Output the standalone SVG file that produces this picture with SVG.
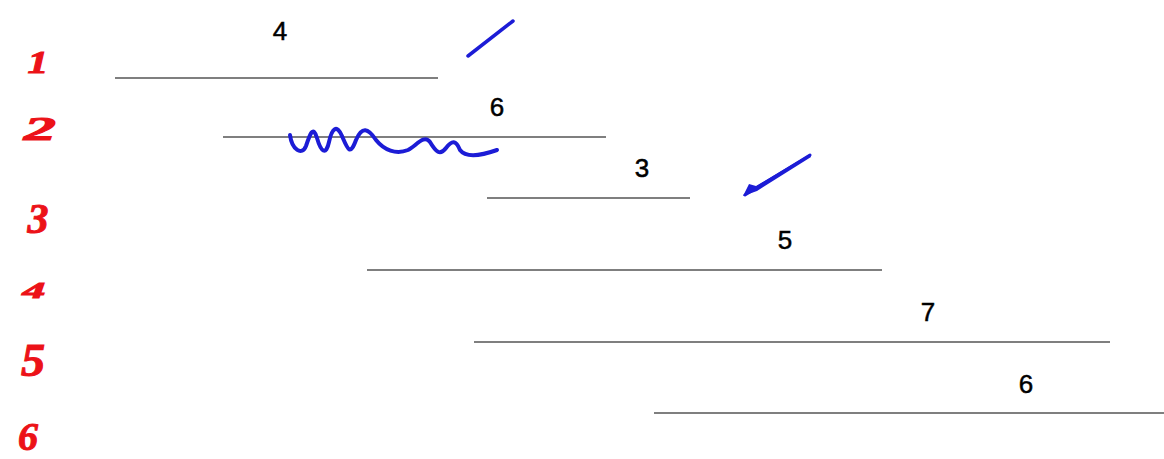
<svg xmlns="http://www.w3.org/2000/svg" width="1164" height="459" viewBox="0 0 1164 459">
<style>
.bar{stroke:#7f7f7f;stroke-width:2.2;fill:none}
.lbl{font-family:"Liberation Sans",Arial,sans-serif;font-size:26px;fill:#000;stroke:#000;stroke-width:0.5;text-anchor:middle}
.num{font-family:"Liberation Serif","Times New Roman",serif;font-weight:bold;font-style:italic;fill:#ec1218;stroke:#ec1218;stroke-width:1;text-anchor:middle}
.ink{stroke:#1c1cd6;fill:none;stroke-linecap:round;stroke-linejoin:round}
</style>
<rect width="1164" height="459" fill="#ffffff"/>
<g id="row-numbers">
<text class="num" transform="translate(38 73) scale(1.3 1)" font-size="32">1</text>
<text class="num" transform="translate(40 140) scale(1.9 1)" font-size="34">2</text>
<text class="num" transform="translate(38 233) scale(1 1)" font-size="42">3</text>
<text class="num" transform="translate(34 298) scale(1.9 1)" font-size="24">4</text>
<text class="num" transform="translate(33 376) scale(1.05 1)" font-size="46">5</text>
<text class="num" transform="translate(28 450) scale(1 1)" font-size="40">6</text>
</g>
<g id="seg1"><line class="bar" x1="115" y1="78" x2="438" y2="78"/><text class="lbl" x="280" y="40">4</text></g>
<g id="seg2"><line class="bar" x1="223" y1="137" x2="606" y2="137"/><text class="lbl" x="497" y="116">6</text></g>
<g id="seg3"><line class="bar" x1="487" y1="198" x2="690" y2="198"/><text class="lbl" x="642" y="177">3</text></g>
<g id="seg4"><line class="bar" x1="367" y1="270" x2="882" y2="270"/><text class="lbl" x="785" y="249">5</text></g>
<g id="seg5"><line class="bar" x1="474" y1="342" x2="1110" y2="342"/><text class="lbl" x="928" y="321">7</text></g>
<g id="seg6"><line class="bar" x1="654" y1="413" x2="1164" y2="413"/><text class="lbl" x="1026" y="393">6</text></g>
<g id="connectors">
<path class="ink" stroke-width="3.5" d="M468 56 L513 21"/>
<path class="ink" stroke-width="4" d="M290 135 C292 150 302 156 306 146 C310 134 313 125 317 138 C321 152 326 156 329 142 C332 128 337 124 342 136 C348 150 350 156 356 140 C362 126 368 128 376 140 C384 150 396 155 408 150 C416 146 424 134 430 142 C436 152 440 156 446 148 C452 140 456 140 460 150 C466 158 480 156 497 150"/>
<path class="ink" stroke-width="3" d="M745 195 L810 155"/>
<path fill="#1c1cd6" d="M743 196 L749 184 L756 186 L810 154 L811 157 L757 191 Z"/>
</g>
</svg>
